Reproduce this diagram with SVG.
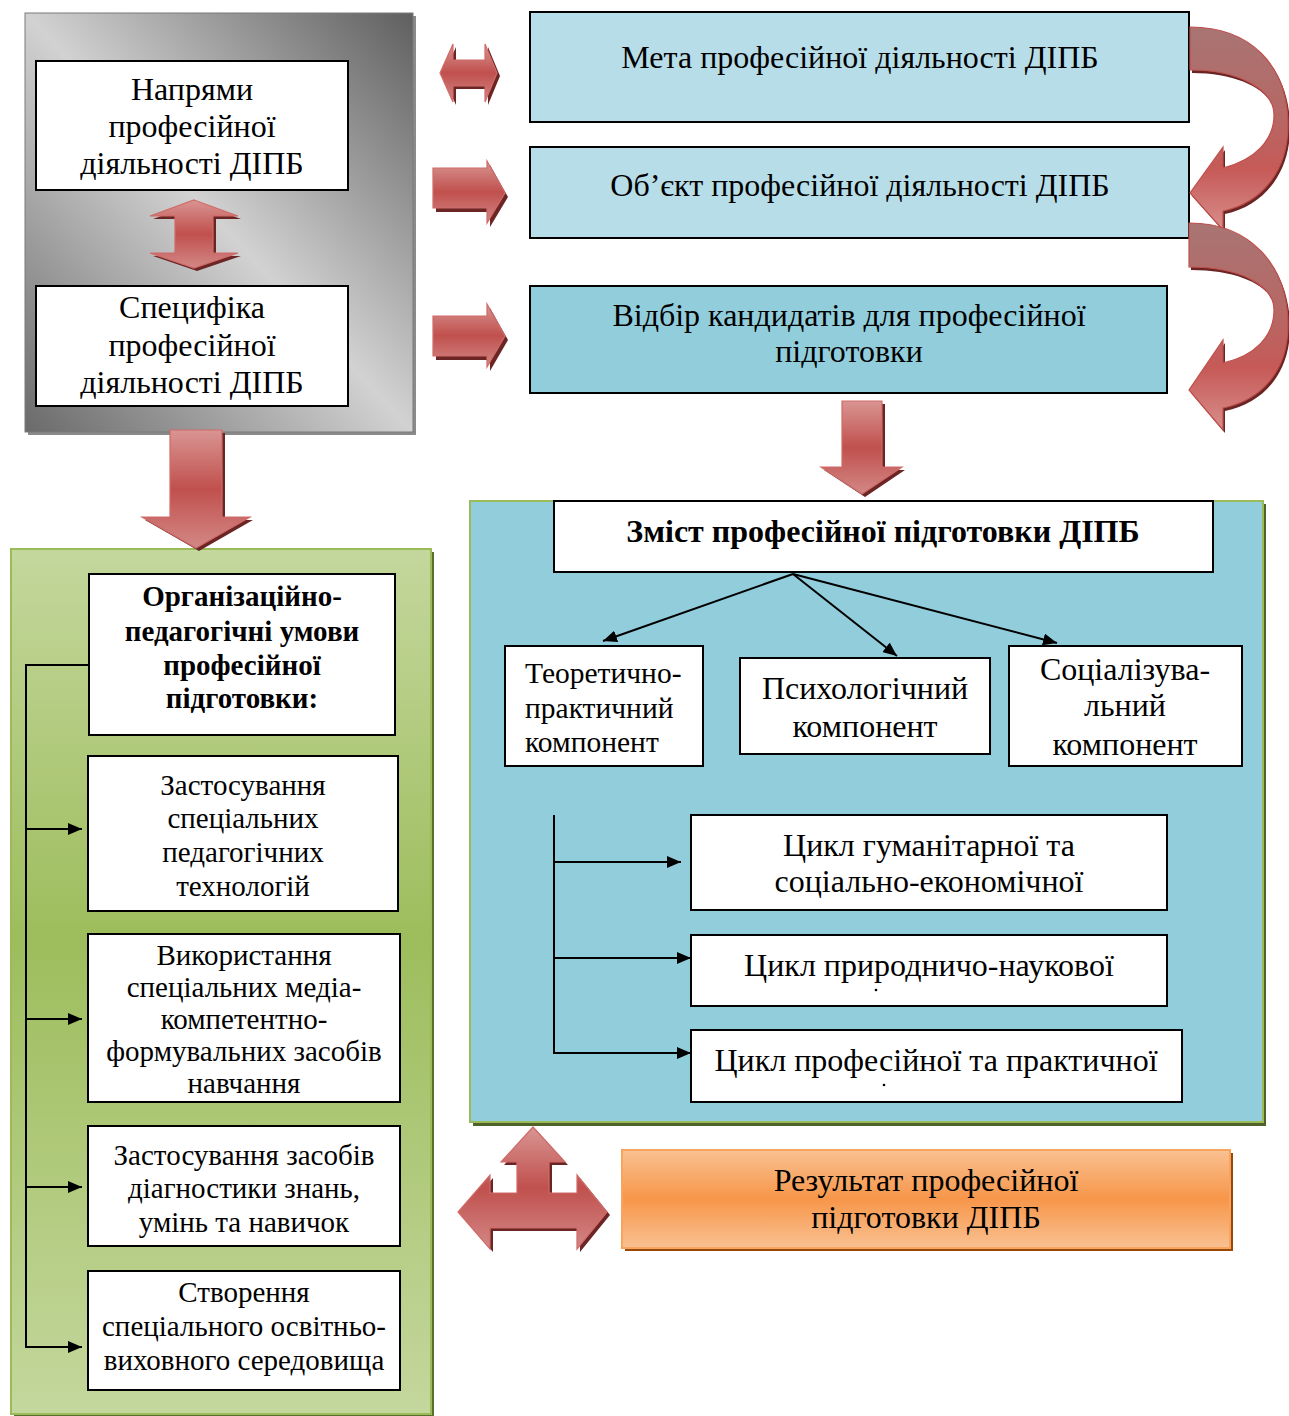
<svg xmlns="http://www.w3.org/2000/svg" width="1289" height="1416" viewBox="0 0 1289 1416">
<defs>
<linearGradient id="gray" x1="0" y1="1" x2="1" y2="0">
<stop offset="0" stop-color="#6a6a6a"/><stop offset="0.5" stop-color="#d2d2d2"/><stop offset="1" stop-color="#5f5f5f"/>
</linearGradient>
<linearGradient id="green" x1="0" y1="0" x2="0" y2="1">
<stop offset="0" stop-color="#c4d79d"/><stop offset="0.45" stop-color="#9dbd5c"/><stop offset="1" stop-color="#c4d79d"/>
</linearGradient>
<linearGradient id="orange" x1="0" y1="0" x2="0" y2="1">
<stop offset="0" stop-color="#f9c192"/><stop offset="0.5" stop-color="#f7964a"/><stop offset="1" stop-color="#f9c192"/>
</linearGradient>
<linearGradient id="red" x1="0" y1="0" x2="0" y2="1">
<stop offset="0" stop-color="#d99593"/><stop offset="0.5" stop-color="#c0504d"/><stop offset="1" stop-color="#d38886"/>
</linearGradient>
<linearGradient id="redc" x1="0" y1="0" x2="0" y2="1">
<stop offset="0" stop-color="#a87573"/><stop offset="0.45" stop-color="#b76764"/><stop offset="0.7" stop-color="#c65a57"/><stop offset="1" stop-color="#d88e8c"/>
</linearGradient>
<marker id="ah" viewBox="0 0 14 12" refX="14" refY="6" markerWidth="14" markerHeight="12" markerUnits="userSpaceOnUse" orient="auto">
<path d="M0,0 L14,6 L0,12 Z" fill="#000"/>
</marker>
<style>
.t{font-family:"Liberation Serif","Times New Roman",serif;fill:#000;text-anchor:middle}
.s{text-anchor:start}
.b{font-weight:bold}
.box{fill:#fff;stroke:#000;stroke-width:2}
.arr{fill:url(#red);stroke:#cf6b68;stroke-width:1.2}
.sh{fill:#6b2524}
.con{fill:none;stroke:#000;stroke-width:2}
</style>
</defs>

<!-- background containers -->
<g id="gray-panel">
<rect x="28" y="16" width="388" height="419" fill="#8a8a8a"/>
<rect x="25" y="13" width="388" height="419" fill="url(#gray)" stroke="#7a7a7a" stroke-width="1"/>
</g>
<g id="green-panel">
<rect x="14" y="552" width="420" height="864" fill="#5a6e2e"/>
<rect x="11" y="549" width="420" height="865" fill="url(#green)" stroke="#9bbb59" stroke-width="2"/>
</g>
<g id="blue-panel">
<rect x="473" y="504" width="793" height="622" fill="#4f6228"/>
<rect x="470" y="501" width="793" height="621" fill="#92cddc" stroke="#9bbb59" stroke-width="2"/>
</g>

<!-- nodes -->
<g id="n-napriamy">
<rect class="box" x="36" y="61" width="312" height="129"/>
<text class="t" font-size="32" x="192" y="100">Напрями</text>
<text class="t" font-size="32" x="192" y="137">професійної</text>
<text class="t" font-size="32" x="192" y="174">діяльності ДІПБ</text>
</g>
<g id="n-spetsyfika">
<rect class="box" x="36" y="286" width="312" height="120"/>
<text class="t" font-size="32" x="192" y="318">Специфіка</text>
<text class="t" font-size="32" x="192" y="356">професійної</text>
<text class="t" font-size="32" x="192" y="393">діяльності ДІПБ</text>
</g>
<g id="n-meta">
<rect x="530" y="12" width="659" height="110" fill="#b7dde8" stroke="#000" stroke-width="2"/>
<text class="t" font-size="32" x="860" y="68">Мета професійної діяльності ДІПБ</text>
</g>
<g id="n-obiekt">
<rect x="530" y="147" width="659" height="91" fill="#b7dde8" stroke="#000" stroke-width="2"/>
<text class="t" font-size="32" x="860" y="196">Об’єкт професійної діяльності ДІПБ</text>
</g>
<g id="n-vidbir">
<rect x="530" y="286" width="637" height="107" fill="#92cddc" stroke="#000" stroke-width="2"/>
<text class="t" font-size="32" x="849" y="326">Відбір кандидатів для професійної</text>
<text class="t" font-size="32" x="849" y="362">підготовки</text>
</g>
<g id="n-zmist">
<rect class="box" x="554" y="501" width="659" height="71"/>
<text class="t b" font-size="32" x="883" y="542">Зміст професійної підготовки ДІПБ</text>
</g>
<g id="n-teor">
<rect class="box" x="505" y="646" width="198" height="120"/>
<text class="t s" font-size="29.5" x="525" y="683">Теоретично-</text>
<text class="t s" font-size="29.5" x="525" y="718">практичний</text>
<text class="t s" font-size="29.5" x="525" y="752">компонент</text>
</g>
<g id="n-psykh">
<rect class="box" x="740" y="658" width="250" height="96"/>
<text class="t" font-size="32" x="865" y="699">Психологічний</text>
<text class="t" font-size="32" x="865" y="737">компонент</text>
</g>
<g id="n-sots">
<rect class="box" x="1009" y="646" width="233" height="120"/>
<text class="t" font-size="32" x="1125" y="680">Соціалізува-</text>
<text class="t" font-size="32" x="1125" y="716">льний</text>
<text class="t" font-size="32" x="1125" y="755">компонент</text>
</g>
<g id="n-tsykl1">
<rect class="box" x="691" y="815" width="476" height="95"/>
<text class="t" font-size="32" x="929" y="856">Цикл гуманітарної та</text>
<text class="t" font-size="32" x="929" y="892">соціально-економічної</text>
</g>
<g id="n-tsykl2">
<rect class="box" x="691" y="935" width="476" height="71"/>
<text class="t" font-size="32" x="929" y="976">Цикл природничо-наукової</text>
<circle cx="876" cy="990" r="1.3" fill="#000"/>
</g>
<g id="n-tsykl3">
<rect class="box" x="691" y="1030" width="491" height="72"/>
<text class="t" font-size="32" x="936" y="1071">Цикл професійної та практичної</text>
<circle cx="884" cy="1085" r="1.3" fill="#000"/>
</g>
<g id="n-result">
<rect x="625" y="1153" width="608" height="98" fill="#984807"/>
<rect x="622" y="1150" width="608" height="98" fill="url(#orange)" stroke="#f8a45f" stroke-width="2"/>
<text class="t" font-size="32" x="926" y="1191">Результат професійної</text>
<text class="t" font-size="32" x="926" y="1228">підготовки ДІПБ</text>
</g>
<g id="n-umovy">
<rect class="box" x="89" y="574" width="306" height="161"/>
<text class="t b" font-size="29" x="242" y="606">Організаційно-</text>
<text class="t b" font-size="29" x="242" y="641">педагогічні умови</text>
<text class="t b" font-size="29" x="242" y="675">професійної</text>
<text class="t b" font-size="29" x="242" y="708">підготовки:</text>
</g>
<g id="n-zast1">
<rect class="box" x="88" y="756" width="310" height="155"/>
<text class="t" font-size="29" x="243" y="795">Застосування</text>
<text class="t" font-size="29" x="243" y="828">спеціальних</text>
<text class="t" font-size="29" x="243" y="862">педагогічних</text>
<text class="t" font-size="29" x="243" y="896">технологій</text>
</g>
<g id="n-vykor">
<rect class="box" x="88" y="934" width="312" height="168"/>
<text class="t" font-size="29" x="244" y="965">Використання</text>
<text class="t" font-size="29" x="244" y="997">спеціальних медіа-</text>
<text class="t" font-size="29" x="244" y="1029">компетентно-</text>
<text class="t" font-size="29" x="244" y="1061">формувальних засобів</text>
<text class="t" font-size="29" x="244" y="1093">навчання</text>
</g>
<g id="n-zast2">
<rect class="box" x="88" y="1126" width="312" height="120"/>
<text class="t" font-size="29" x="244" y="1165">Застосування засобів</text>
<text class="t" font-size="29" x="244" y="1198">діагностики знань,</text>
<text class="t" font-size="29" x="244" y="1232">умінь та навичок</text>
</g>
<g id="n-stvor">
<rect class="box" x="88" y="1271" width="312" height="119"/>
<text class="t" font-size="29" x="244" y="1302">Створення</text>
<text class="t" font-size="29" x="244" y="1336">спеціального освітньо-</text>
<text class="t" font-size="29" x="244" y="1370">виховного середовища</text>
</g>

<!-- connectors -->
<g id="connectors">
<path class="con" d="M89,665 H26 V1347 H82" marker-end="url(#ah)"/>
<path class="con" d="M26,829 H82" marker-end="url(#ah)"/>
<path class="con" d="M26,1019 H82" marker-end="url(#ah)"/>
<path class="con" d="M26,1187 H82" marker-end="url(#ah)"/>
<path class="con" d="M554,815 V1053 H691" marker-end="url(#ah)"/>
<path class="con" d="M554,862 H681" marker-end="url(#ah)"/>
<path class="con" d="M554,958 H691" marker-end="url(#ah)"/>
<path class="con" d="M793,574 L603,641" marker-end="url(#ah)"/>
<path class="con" d="M793,574 L897,656" marker-end="url(#ah)"/>
<path class="con" d="M793,574 L1057,643" marker-end="url(#ah)"/>

<!-- block arrows -->
<g id="arrow-updown">
<path class="sh" transform="translate(3,3)" d="M194,200 L238,216 L213,216 L213,253 L238,253 L194,268 L150,253 L175,253 L175,216 L150,216 Z"/>
<path class="arr" d="M194,200 L238,216 L213,216 L213,253 L238,253 L194,268 L150,253 L175,253 L175,216 L150,216 Z"/>
</g>
<g id="arrow-lr">
<path class="sh" transform="translate(3,3)" d="M440,73 L453,44 L453,60 L485,60 L485,44 L497,73 L485,102 L485,86 L453,86 L453,102 Z"/>
<path class="arr" d="M440,73 L453,44 L453,60 L485,60 L485,44 L497,73 L485,102 L485,86 L453,86 L453,102 Z"/>
</g>
<g id="arrow-r1">
<path class="sh" transform="translate(3,4)" d="M433,168 L487,168 L487,161 L505,193 L487,223 L487,208 L433,208 Z"/>
<path class="arr" d="M433,168 L487,168 L487,161 L505,193 L487,223 L487,208 L433,208 Z"/>
</g>
<g id="arrow-r2">
<path class="sh" transform="translate(3,4)" d="M433,316 L487,316 L487,304 L505,336 L487,367 L487,356 L433,356 Z"/>
<path class="arr" d="M433,316 L487,316 L487,304 L505,336 L487,367 L487,356 L433,356 Z"/>
</g>
<g id="arrow-down-left">
<path class="sh" transform="translate(3,3)" d="M170,430 L222,430 L222,517 L250,517 L196,548 L142,517 L170,517 Z"/>
<path class="arr" d="M170,430 L222,430 L222,517 L250,517 L196,548 L142,517 L170,517 Z"/>
</g>
<g id="arrow-down-right">
<path class="sh" transform="translate(3,3)" d="M842,401 L882,401 L882,467 L902,467 L862,494 L821,467 L842,467 Z"/>
<path class="arr" d="M842,401 L882,401 L882,467 L902,467 L862,494 L821,467 L842,467 Z"/>
</g>
<g id="arrow-three">
<path class="sh" transform="translate(3,3)" d="M533,1127 L565,1162 L549,1162 L549,1193 L577,1193 L577,1175 L607,1212 L577,1249 L577,1228 L490,1228 L490,1249 L458,1212 L490,1175 L490,1193 L517,1193 L517,1162 L501,1162 Z"/>
<path class="arr" d="M533,1127 L565,1162 L549,1162 L549,1193 L577,1193 L577,1175 L607,1212 L577,1249 L577,1228 L490,1228 L490,1249 L458,1212 L490,1175 L490,1193 L517,1193 L517,1162 L501,1162 Z"/>
</g>
<g id="arrow-curve1">
<path class="sh" transform="translate(2,3)" d="M1190,27 C1250,27 1288,65 1288,125 C1288,170 1262,203 1223,211 L1223,230 L1190,193 L1223,147 L1223,168 C1255,160 1274,140 1274,115 C1274,90 1240,70 1190,70 Z"/>
<path fill="url(#redc)" stroke="#c0504d" stroke-width="1.2" d="M1190,27 C1250,27 1288,65 1288,125 C1288,170 1262,203 1223,211 L1223,230 L1190,193 L1223,147 L1223,168 C1255,160 1274,140 1274,115 C1274,90 1240,70 1190,70 Z"/>
</g>
<g id="arrow-curve2">
<path class="sh" transform="translate(2,3)" d="M1189,223 C1250,223 1288,265 1288,325 C1288,370 1262,400 1223,408 L1223,430 L1189,390 L1223,340 L1223,363 C1255,356 1274,336 1274,310 C1274,285 1240,267 1189,267 Z"/>
<path fill="url(#redc)" stroke="#c0504d" stroke-width="1.2" d="M1189,223 C1250,223 1288,265 1288,325 C1288,370 1262,400 1223,408 L1223,430 L1189,390 L1223,340 L1223,363 C1255,356 1274,336 1274,310 C1274,285 1240,267 1189,267 Z"/>
</g>
</g>
</svg>
